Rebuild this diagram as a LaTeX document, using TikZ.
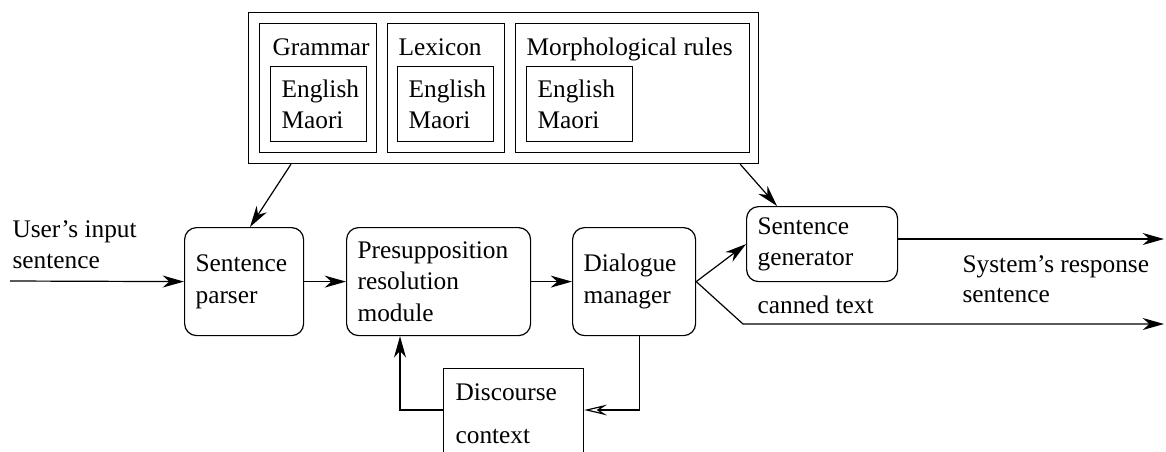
\documentclass[tikz,border=0pt]{standalone}
\usepackage{fontspec}
\setmainfont{Liberation Serif}
\usetikzlibrary{arrows.meta,calc}

\begin{document}
\begin{tikzpicture}[x=0.75pt,y=-0.75pt,
  every node/.style={font=\fontsize{19}{23.6}\selectfont},
  line width=0.9pt,
  >={Stealth[length=16pt,width=9pt,inset=5pt]},
  frame/.style={draw, rectangle, inner sep=0pt, anchor=north west},
  langbox/.style={draw, rectangle, anchor=north west, align=left,
    inner xsep=8.25pt, inner ysep=0pt, minimum height=56.25pt},
  proc/.style={draw, rounded corners=9pt, anchor=north west, align=left,
    inner xsep=8.25pt, inner ysep=0pt},
  txt/.style={anchor=base west, inner sep=0pt},
  openarrow/.style={-{Stealth[open,length=17pt,width=8pt,inset=6pt]}},
  ]
\useasboundingbox (0,0) rectangle (1166,451);
\clip (0,0) rectangle (1166,451);

% knowledge bases
\node[frame, minimum width=382.5pt, minimum height=113.25pt] (kb) at (248,12) {};
\node[frame, minimum width=87.75pt, minimum height=96.75pt] (gram) at (259,23) {};
\node[frame, minimum width=87.75pt, minimum height=96.75pt] (lex) at (387,23) {};
\node[frame, minimum width=175.5pt, minimum height=96.75pt] (morph) at (515,23) {};
\node[txt] (gramlabel) at (272,55) {Grammar};
\node[txt] (lexlabel) at (398,55) {Lexicon};
\node[txt] (morphlabel) at (526,55) {Morphological rules};
\node[langbox, minimum width=72pt, text width=55.5pt] (gramlang) at (270,66) {English\\Maori};
\node[langbox, minimum width=72pt, text width=55.5pt] (lexlang) at (397,66) {English\\Maori};
\node[langbox, minimum width=79.5pt, text width=63pt] (morphlang) at (526,66) {English\\Maori};

% processing modules
\node[proc, minimum width=89.25pt, text width=72.75pt, minimum height=81pt] (parser) at (184,227) {Sentence\\parser};
\node[proc, minimum width=138pt, text width=121.5pt, minimum height=81pt] (pres) at (346,227) {Presupposition\\resolution\\module};
\node[proc, minimum width=92.25pt, text width=75.75pt, minimum height=81pt] (dial) at (572,227) {Dialogue\\manager};
\node[proc, minimum width=113.25pt, text width=96.75pt, minimum height=56.25pt] (gen) at (746,206) {Sentence\\generator};

% discourse context (runs past the lower edge)
\node[frame, minimum width=105pt, minimum height=90pt] (disc) at (443,368) {};
\node[txt] (disc1) at (455,400) {Discourse};
\node[txt] (disc2) at (455,443) {context};

% free labels
\node[txt] (inlabel1) at (12,237) {User's input};
\node[txt] (inlabel2) at (12,268) {sentence};
\node[txt] (outlabel1) at (962,272) {System's response};
\node[txt] (outlabel2) at (962,302) {sentence};
\node[txt] (cannedlabel) at (757,313) {canned text};

% connector end points
\coordinate (in) at (10,281);
\coordinate (out1) at (1164,239);
\coordinate (bend) at (743,324);
\coordinate (out2) at (1164,324);

% connectors
\draw[->] (in) -- (parser.west);
\draw[->] (parser.east) -- (pres.west);
\draw[->] (pres.east) -- (dial.west);
\draw[->] (dial.east) -- (gen.west);
\draw[->] (dial.east) -- (bend) -- (out2);
\draw[->] (gen.east |- out1) -- (out1);
\draw[->] ($(kb.south west)+(43,0)$) -- ($(parser.north west)+(66,0)$);
\draw[->] ($(kb.south east)+(-19,0)$) -- ($(gen.north west)+(31,0)$);
\draw[openarrow] ($(dial.south east)+(-57,0)$) |- ($(disc.north east)+(0,42)$);
\draw[->] ($(disc.north west)+(0,42)$) -| ($(pres.south west)+(54,0)$);
\end{tikzpicture}
\end{document}
